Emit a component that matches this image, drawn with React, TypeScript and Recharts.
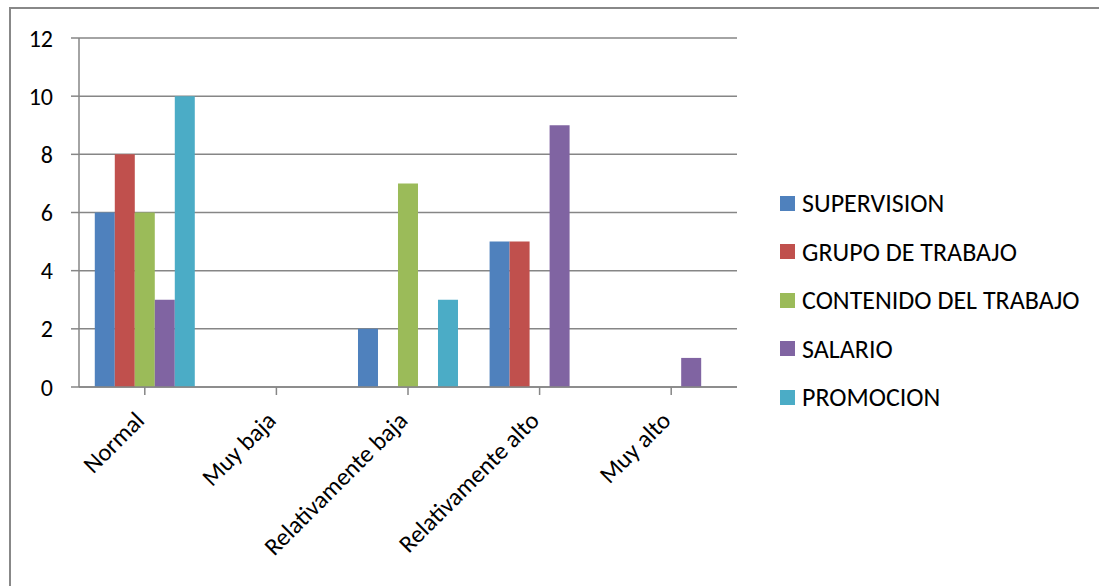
import React from 'react';
import { BarChart, Bar, XAxis, YAxis, CartesianGrid } from 'recharts';

const categories = ['Normal', 'Muy baja', 'Relativamente baja', 'Relativamente alto', 'Muy alto'];
const supervision = [6, 0, 2, 5, 0];
const grupoDeTrabajo = [8, 0, 0, 5, 0];
const contenidoDelTrabajo = [6, 0, 7, 0, 0];
const salario = [3, 0, 0, 9, 1];
const promocion = [10, 0, 3, 0, 0];
const yTicks = [0, 2, 4, 6, 8, 10, 12];

const seriesDefs = [
  { key: 'SUPERVISION', values: supervision, color: '#4F81BD' },
  { key: 'GRUPO DE TRABAJO', values: grupoDeTrabajo, color: '#C0504D' },
  { key: 'CONTENIDO DEL TRABAJO', values: contenidoDelTrabajo, color: '#9BBB59' },
  { key: 'SALARIO', values: salario, color: '#8064A2' },
  { key: 'PROMOCION', values: promocion, color: '#4BACC6' },
];

const data = categories.map((c, i) => {
  const row: Record<string, any> = { name: c };
  seriesDefs.forEach((s) => (row[s.key] = s.values[i]));
  return row;
});

const FONT = 'Carlito, Lato, "Open Sans", sans-serif';

const XTick = (props: any) => {
  const { x, y, payload } = props;
  return (
    <g transform={`translate(${x + 1},${y + 25})`}>
      <text
        x={0}
        y={0}
        textAnchor="end"
        transform="rotate(-45)"
        fontSize={24.5}
        fill="#000"
        fontFamily={FONT}
      >
        {payload.value}
      </text>
    </g>
  );
};

const LegendBlock = () => (
  <div style={{ position: 'absolute', left: 780, top: 179, fontFamily: FONT, fontSize: 26, color: '#000' }}>
    {seriesDefs.map((s) => (
      <div key={s.key} style={{ display: 'flex', alignItems: 'center', height: 48.5, whiteSpace: 'nowrap' }}>
        <div style={{ width: 15, height: 15, background: s.color, marginRight: 7 }} />
        <span>{s.key}</span>
      </div>
    ))}
  </div>
);

export default function App() {
  return (
    <div style={{ position: 'absolute', left: 0, top: 0, width: 1099, height: 586, overflow: 'hidden', background: '#fff' }}>
      <div style={{ position: 'absolute', left: 9, top: 7, width: 1200, height: 700, border: '2px solid #888' }} />
      <div style={{ position: 'absolute', left: 0, top: 0 }}>
        <BarChart
          width={1099}
          height={586}
          data={data}
          margin={{ top: 38, right: 362, bottom: 0, left: 0 }}
          barCategoryGap="12%"
          barGap={0}
        >
          <CartesianGrid vertical={false} stroke="#868686" strokeWidth={1.5} />
          <XAxis
            dataKey="name"
            interval={0}
            tick={<XTick />}
            axisLine={{ stroke: '#868686', strokeWidth: 1.5 }}
            tickLine={{ stroke: '#868686', strokeWidth: 1.5 }}
            tickSize={8}
            height={199}
          />
          <YAxis
            width={79}
            domain={[0, 12]}
            ticks={yTicks}
            interval={0}
            tick={{ fontSize: 24, fill: '#000', fontFamily: FONT }}
            axisLine={{ stroke: '#868686', strokeWidth: 1.5 }}
            tickLine={{ stroke: '#868686', strokeWidth: 1.5 }}
            tickSize={8}
            tickMargin={18}
          />
          {seriesDefs.map((s) => (
            <Bar key={s.key} dataKey={s.key} fill={s.color} isAnimationActive={false} />
          ))}
        </BarChart>
      </div>
      <LegendBlock />
    </div>
  );
}
